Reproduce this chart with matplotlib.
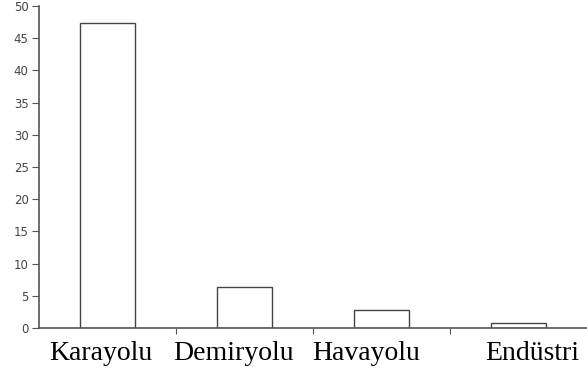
import matplotlib
matplotlib.use('Agg')
import matplotlib.pyplot as plt
import numpy as np

# Data
categories = ['Karayolu', 'Demiryolu', 'Havayolu', 'Endüstri']
values = [47.4, 6.4, 2.8, 0.8]
yticks = [0, 5, 10, 15, 20, 25, 30, 35, 40, 45, 50]

# label shifts (in category units) to match the loose placement of the original
label_shift = [-0.05, -0.08, -0.11, 0.10]

fig = plt.figure(figsize=(5.87, 3.74), dpi=100)
ax = fig.add_axes([39 / 587, 46 / 374, 548 / 587, 322 / 374])

x = np.arange(len(categories))
ax.bar(x, values, width=0.4, color='white', edgecolor='#444444', linewidth=1.0)

ax.set_xlim(-0.5, len(categories) - 0.5)
ax.set_ylim(0, 50)
ax.set_yticks(yticks)
ax.set_yticklabels([str(v) for v in yticks])

ax.set_xticks(x[:-1] + 0.5)
ax.set_xticklabels([])
ax.tick_params(axis='x', direction='out', length=4, color='#555555')
ax.tick_params(axis='y', direction='out', length=5, pad=2.5, color='#555555',
               labelsize=8.5, labelcolor='#444444')

for s in ['top', 'right']:
    ax.spines[s].set_visible(False)
for s in ['left', 'bottom']:
    ax.spines[s].set_color('#555555')
    ax.spines[s].set_linewidth(1.2)

trans = matplotlib.transforms.blended_transform_factory(ax.transData, ax.transAxes)
for i, name in enumerate(categories):
    ax.text(x[i] + label_shift[i], -0.099, name, transform=trans,
            ha='center', va='baseline', fontsize=20,
            family='Liberation Serif', color='black', clip_on=False)

fig.savefig('out.png', dpi=100)
